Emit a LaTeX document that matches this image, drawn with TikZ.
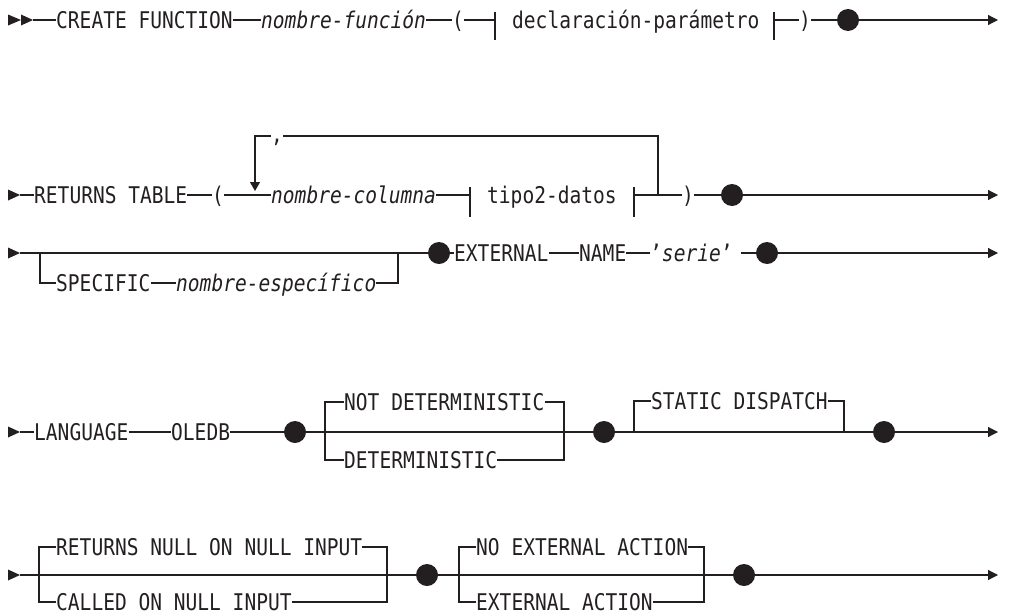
\documentclass[tikz,border=0pt]{standalone}
\usepackage{fontspec}
\newfontfamily\dmono[FakeStretch=0.85]{DejaVu Sans Mono}
\usetikzlibrary{arrows.meta,calc}
\definecolor{ink}{RGB}{35,31,32}
\begin{document}
\begin{tikzpicture}[x=1pt,y=-1pt,
  txt/.style={anchor=west,inner sep=0pt,text height=16.8pt,text depth=0pt,font=\dmono\fontsize{23}{28}\selectfont,text=ink},
  it/.style={txt,font=\dmono\itshape\fontsize{23}{28}\selectfont},
  ln/.style={draw=ink,line width=1.2pt},
  dotn/.style={circle,fill=ink,inner sep=0pt,minimum size=22pt},
  endarr/.style={ln,-{Triangle[length=10pt,width=10pt]}},
  starttri/.style={fill=ink}]
\useasboundingbox (0,0) rectangle (1016,613);
% ---------- Row 1
\fill[starttri] (8,14.5) -- (21,20) -- (8,25.5) -- cycle;
\fill[starttri] (21,14.5) -- (33,20) -- (21,25.5) -- cycle;
\coordinate (s1) at (33,20);
\node[txt] (r1a) at (56,20) {CREATE FUNCTION};
\node[it] (r1b) at (261,20) {nombre-función};
\node[txt] (r1c) at (452,20) {(};
\coordinate (b1) at (495,20);
\node[txt] (r1d) at (512,20) {declaración-parámetro};
\coordinate (b2) at (774,20);
\node[txt] (r1e) at (799,20) {)};
\node[dotn] (r1f) at (848,20) {};
\coordinate (e1) at (998,20);
\draw[ln] (s1) -- (r1a.west) (r1a.east) -- (r1b.west) (r1b.east) -- (r1c.west)
  (r1c.east) -- (b1) (b2) -- (r1e.west) (r1e.east) -- (r1f);
\draw[endarr] (r1f) -- (e1);
\draw[ln] ($(b1)+(0,-8)$) -- ($(b1)+(0,20)$);
\draw[ln] ($(b2)+(0,-8)$) -- ($(b2)+(0,20)$);
% ---------- Row 2
\fill[starttri] (8,189.5) -- (20,195) -- (8,200.5) -- cycle;
\coordinate (s2) at (20,195);
\node[txt] (r2a) at (34,195) {RETURNS TABLE};
\node[txt] (r2b) at (212,195) {(};
\node[it] (r2c) at (271,195) {nombre-columna};
\coordinate (b3) at (470,195);
\node[txt] (r2d) at (487,195) {tipo2-datos};
\coordinate (b4) at (634,195);
\coordinate (j2) at (658,195);
\node[txt] (r2e) at (682,195) {)};
\node[dotn] (r2f) at (732,195) {};
\coordinate (e2) at (998,195);
\node[txt] (r2g) at (271,134) {,};
\coordinate (lp) at (255,136);
\coordinate (lt) at (255,191);
\coordinate (rp) at (658,136);
\draw[ln] (s2) -- (r2a.west) (r2a.east) -- (r2b.west) (r2b.east) -- (r2c.west)
  (r2c.east) -- (b3) (b4) -- (r2e.west) (r2e.east) -- (r2f);
\draw[endarr] (r2f) -- (e2);
\draw[ln] ($(b3)+(0,-8)$) -- ($(b3)+(0,22)$);
\draw[ln] ($(b4)+(0,-8)$) -- ($(b4)+(0,22)$);
\draw[ln] (j2) -- (rp) -- (rp -| r2g.east);
\draw[ln,-{Triangle[length=9pt,width=10pt]}] (rp -| r2g.west) -- (lp) -- (lt);
% ---------- Row 3
\fill[starttri] (8,247.5) -- (20,253) -- (8,258.5) -- cycle;
\coordinate (s3) at (20,253);
\coordinate (c3a) at (40,253);
\coordinate (c3b) at (398,253);
\node[txt] (r3a) at (56,283) {SPECIFIC};
\node[it] (r3b) at (176,283) {nombre-específico};
\node[dotn] (r3c) at (439,253) {};
\node[txt] (r3d) at (454,253) {EXTERNAL};
\node[txt] (r3e) at (579,253) {NAME};
\node[txt] (r3f) at (650,253) {’\textit{serie}’};
\node[dotn] (r3g) at (767,253) {};
\coordinate (e3) at (998,253);
\draw[ln] (s3) -- (r3c) (r3c) -- (r3d.west) (r3d.east) -- (r3e.west) (r3e.east) -- (r3f.west)
  ([xshift=8pt]r3f.east) -- (r3g);
\draw[endarr] (r3g) -- (e3);
\draw[ln] (c3a) |- (r3a.west) (r3a.east) -- (r3b.west) (r3b.east) -| (c3b);
% ---------- Row 4
\fill[starttri] (8,426.5) -- (20,432) -- (8,437.5) -- cycle;
\coordinate (s4) at (20,432);
\node[txt] (r4a) at (34,432) {LANGUAGE};
\node[txt] (r4b) at (171,432) {OLEDB};
\node[dotn] (r4c) at (295,432) {};
\coordinate (c4a) at (325,432);
\coordinate (c4b) at (564,432);
\node[txt] (r4d) at (344,402) {NOT DETERMINISTIC};
\node[txt] (r4e) at (344,460) {DETERMINISTIC};
\node[dotn] (r4f) at (604,432) {};
\coordinate (c4c) at (634,432);
\coordinate (c4d) at (844,432);
\node[txt] (r4g) at (651,401) {STATIC DISPATCH};
\node[dotn] (r4h) at (884,432) {};
\coordinate (e4) at (998,432);
\draw[ln] (s4) -- (r4a.west) (r4a.east) -- (r4b.west) (r4b.east) -- (r4c)
  (r4c) -- (r4f) (r4f) -- (r4h);
\draw[endarr] (r4h) -- (e4);
\draw[ln] (r4d.west) -| (c4a) |- (r4e.west);
\draw[ln] (r4d.east) -| (c4b) (r4e.east) -| (c4b);
\draw[ln] (c4c) |- (r4g.west) (r4g.east) -| (c4d);
% ---------- Row 5
\fill[starttri] (8,569.5) -- (20,575) -- (8,580.5) -- cycle;
\coordinate (s5) at (20,575);
\coordinate (c5a) at (39,575);
\coordinate (c5b) at (387,575);
\node[txt] (r5a) at (56,547) {RETURNS NULL ON NULL INPUT};
\node[txt] (r5b) at (56,602) {CALLED ON NULL INPUT};
\node[dotn] (r5c) at (427,575) {};
\coordinate (c5c) at (459,575);
\coordinate (c5d) at (704,575);
\node[txt] (r5d) at (476,547) {NO EXTERNAL ACTION};
\node[txt] (r5e) at (476,602) {EXTERNAL ACTION};
\node[dotn] (r5f) at (744,575) {};
\coordinate (e5) at (998,575);
\draw[ln] (s5) -- (r5c) (r5c) -- (r5f);
\draw[endarr] (r5f) -- (e5);
\draw[ln] (r5a.west) -| (c5a) |- (r5b.west);
\draw[ln] (r5a.east) -| (c5b) (r5b.east) -| (c5b);
\draw[ln] (r5d.west) -| (c5c) |- (r5e.west);
\draw[ln] (r5d.east) -| (c5d) (r5e.east) -| (c5d);
\end{tikzpicture}
\end{document}
